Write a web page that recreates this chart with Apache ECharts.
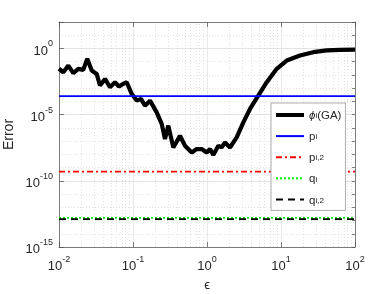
<!DOCTYPE html>
<html><head><meta charset="utf-8">
<script src="https://cdn.jsdelivr.net/npm/echarts@6/dist/echarts.min.js"></script>
<style>html,body{margin:0;padding:0;background:#fff}#c{width:392px;height:294px}</style>
</head><body><div id="c"></div>
<script>
const epsLog10 = [-2.000,-1.942,-1.874,-1.807,-1.739,-1.672,-1.618,-1.558,-1.491,-1.446,-1.378,-1.311,-1.243,-1.189,-1.131,-1.085,-1.018,-0.950,-0.892,-0.838,-0.770,-0.680,-0.612,-0.568,-0.523,-0.455,-0.365,-0.297,-0.207,-0.139,-0.072,-0.004,0.041,0.085,0.153,0.199,0.243,0.311,0.401,0.491,0.581,0.693,0.807,0.942,1.077,1.257,1.436,1.618,1.797,2.000];
const errLog10 = [-1.52,-1.80,-1.29,-1.87,-1.54,-1.62,-0.78,-1.67,-1.92,-2.80,-2.30,-2.93,-2.55,-2.88,-2.67,-2.55,-3.43,-3.94,-3.81,-4.32,-3.94,-4.83,-5.70,-6.84,-5.83,-7.48,-6.59,-7.35,-7.86,-7.60,-7.60,-7.86,-7.60,-8.05,-7.35,-7.48,-7.10,-7.48,-6.72,-5.58,-4.57,-3.56,-2.55,-1.54,-0.91,-0.53,-0.28,-0.15,-0.10,-0.08];
const pLevel = -3.6;
const p2Level = -9.3;
const qLevel = -12.8;
const q2Level = -12.9;
const xTickExps = [-2, -1, 0, 1, 2];
const yLabelExps = [-15, -10, -5, 0];
const legendNames = ['phi', 'p', 'p2', 'q', 'q2'];

const FONT = 'Liberation Sans, Arial, sans-serif';
const TXT = '#262626';
const xMinor = [];
for (let n = -2; n < 2; n++) for (let k = 2; k <= 9; k++) xMinor.push(n + Math.log10(k));

const powRich = {
  b: { fontSize: 13, fontFamily: FONT, color: TXT, lineHeight: 18, verticalAlign: 'bottom' },
  s: { fontSize: 9, fontFamily: FONT, color: TXT, lineHeight: 9, verticalAlign: 'top' }
};
const powFmt = v => '{b|10}{s|' + v + '}';

const axisLine = { show: true, onZero: false, lineStyle: { color: '#4d4d4d', width: 0.7 } };
const tick = len => ({ show: true, inside: true, length: len, lineStyle: { color: '#4d4d4d', width: 0.7 } });

const legendText = {
  phi: '{it|ϕ}{sub|i}{n|(GA)}',
  p: '{n|p}{sub|i}',
  p2: '{n|p}{sub|i,2}',
  q: '{n|q}{sub|i}',
  q2: '{n|q}{sub|i,2}'
};

const hline = lvl => [[-2, lvl], [2, lvl]];

const chart = echarts.init(document.getElementById('c'));
chart.setOption({
  animation: false,
  backgroundColor: '#fff',
  grid: { left: 59, right: 37, top: 22, bottom: 47, outerBoundsMode: 'none', containLabel: false },
  xAxis: [
    { type: 'value', min: -2, max: 2, interval: 1, position: 'bottom',
      axisLine, axisTick: tick(5),
      axisLabel: { formatter: powFmt, rich: powRich, margin: 8 },
      splitLine: { show: true, lineStyle: { color: '#e0e0e0', width: 0.7 } },
      name: 'ϵ', nameLocation: 'middle', nameGap: 32, nameMoveOverlap: false,
      nameTextStyle: { fontSize: 13, fontFamily: FONT, color: TXT } },
    { type: 'value', min: -2, max: 2, interval: 1, position: 'top',
      axisLine, axisTick: tick(5), axisLabel: { show: false }, splitLine: { show: false } }
  ],
  yAxis: [
    { type: 'value', min: -15, max: 2, interval: 5, position: 'left',
      axisLine, axisTick: tick(5),
      axisLabel: { formatter: v => (yLabelExps.includes(v) ? powFmt(v) : ''), rich: powRich, margin: 6 },
      splitLine: { show: true, lineStyle: { color: '#e0e0e0', width: 0.7 } },
      name: 'Error', nameLocation: 'middle', nameGap: 43, nameRotate: 90, nameMoveOverlap: false,
      nameTextStyle: { fontSize: 14, fontFamily: FONT, color: TXT } },
    { type: 'value', min: -15, max: 2, interval: 1, position: 'right',
      axisLine, axisTick: tick(3), axisLabel: { show: false },
      splitLine: { show: true, lineStyle: { color: '#d6d6d6', width: 0.7, type: [1, 2] } } }
  ],
  legend: {
    orient: 'vertical', left: 271, top: 103,
    itemWidth: 28, itemHeight: 14, itemGap: 5.1,
    padding: [3, 4, 4, 3],
    backgroundColor: '#fff', borderColor: '#999', borderWidth: 0.8, borderRadius: 0,
    itemStyle: { opacity: 0 },
    data: legendNames.map(n => (n === 'phi' ? { name: n, lineStyle: { width: 4 } } : { name: n })),
    formatter: name => legendText[name],
    textStyle: {
      rich: {
        n: { fontSize: 11.5, fontFamily: FONT, color: TXT, lineHeight: 10, verticalAlign: 'top' },
        it: { fontSize: 11.5, fontFamily: FONT, fontStyle: 'italic', color: TXT, lineHeight: 10, verticalAlign: 'top' },
        sub: { fontSize: 8, fontFamily: FONT, color: TXT, lineHeight: 8, verticalAlign: 'bottom', padding: [6, 0, 0, 0] }
      }
    }
  },
  series: [
    { type: 'line', data: [], silent: true, symbol: 'none', z: 0,
      markLine: { silent: true, z: 0, symbol: ['none', 'none'], label: { show: false },
        lineStyle: { color: '#d6d6d6', width: 0.7, type: [1, 2] },
        data: xMinor.map(v => ({ xAxis: v })) } },
    { name: 'phi', type: 'line', symbol: 'none', z: 3, data: epsLog10.map((e, i) => [e, errLog10[i]]),
      itemStyle: { color: '#000' }, lineStyle: { color: '#000', width: 4.2 } },
    { name: 'p', type: 'line', symbol: 'none', z: 3, data: hline(pLevel),
      itemStyle: { color: '#0000ff' }, lineStyle: { color: '#0000ff', width: 1.8 } },
    { name: 'p2', type: 'line', symbol: 'none', z: 3, data: hline(p2Level),
      itemStyle: { color: '#ff0000' }, lineStyle: { color: '#ff0000', width: 1.8, type: [6, 3, 2, 3] } },
    { name: 'q', type: 'line', symbol: 'none', z: 3, data: hline(qLevel),
      itemStyle: { color: '#00ee00' }, lineStyle: { color: '#00ee00', width: 1.8, type: [2, 2] } },
    { name: 'q2', type: 'line', symbol: 'none', z: 3, data: hline(q2Level),
      itemStyle: { color: '#000' }, lineStyle: { color: '#000', width: 1.8, type: [7, 5] } }
  ]
});
</script></body></html>
